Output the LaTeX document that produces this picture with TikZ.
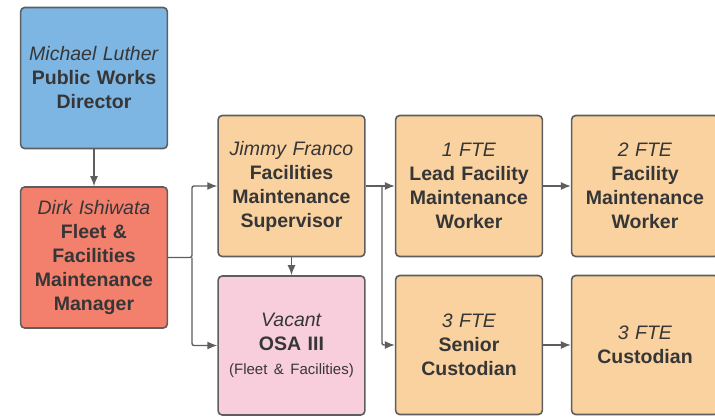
\documentclass[tikz,border=0pt]{standalone}
\usepackage{fontspec}
\setmainfont{Liberation Sans}
\usetikzlibrary{arrows.meta}
\definecolor{dirblue}{HTML}{7DB5E3}
\definecolor{mgrred}{HTML}{F3806D}
\definecolor{staffpeach}{HTML}{FAD2A0}
\definecolor{osapink}{HTML}{F8CEDC}
\definecolor{edgegray}{HTML}{5E5E5E}
\definecolor{textgray}{HTML}{363636}
\begin{document}
\begin{tikzpicture}[x=1pt,y=-1pt,
        box/.style={draw=edgegray,line width=1.6pt,rounded corners=4pt,
            minimum width=143pt,minimum height=141pt,text width=140pt,align=center,
            text=textgray,font=\fontsize{19.5}{24}\selectfont},
        conn/.style={draw=edgegray,line width=1.4pt,rounded corners=2pt,
            -{Latex[length=10pt,width=8pt]}}]
        \useasboundingbox (0,0) rectangle (715,418);
        %% director
        \node[box,fill=dirblue] (dir) at (94,78) {\textit{Michael Luther}\\\textbf{Public Works}\\\textbf{Director}};
        %% manager
        \node[box,fill=mgrred] (mgr) at (94,257.5) {\textit{Dirk Ishiwata}\\\textbf{Fleet \&}\\\textbf{Facilities}\\\textbf{Maintenance}\\\textbf{Manager}};
        %% supervisor and osa
        \node[box,fill=staffpeach] (sup) at (291.5,186) {\textit{Jimmy Franco}\\\textbf{Facilities}\\\textbf{Maintenance}\\\textbf{Supervisor}};
        \node[box,fill=osapink,minimum height=139pt] (osa) at (291.5,345.5) {\textit{Vacant}\\\textbf{OSA III}\\{\fontsize{15}{22}\selectfont(Fleet \& Facilities)}};
        %% workers
        \node[box,fill=staffpeach] (lead) at (469,186) {\textit{1 FTE}\\\textbf{Lead Facility}\\\textbf{Maintenance}\\\textbf{Worker}};
        \node[box,fill=staffpeach,minimum width=137pt] (fmw) at (645,186) {\textit{2 FTE}\\\textbf{Facility}\\\textbf{Maintenance}\\\textbf{Worker}};
        %% custodians
        \node[box,fill=staffpeach,minimum height=139pt] (sen) at (469,345) {\textit{3 FTE}\\\textbf{Senior}\\\textbf{Custodian}};
        \node[box,fill=staffpeach,minimum width=137pt,minimum height=139pt] (cus) at (645,345) {\textit{3 FTE}\\\textbf{Custodian}};
        %% connectors
        \coordinate (mgrsplit) at (192,257.5);
        \coordinate (supsplit) at (382,186);
        \draw[conn] (dir.south) -- (mgr.north);
        \draw[conn] (mgr.east) -- (mgrsplit) |- (sup.west);
        \draw[conn] (mgrsplit) |- (osa.west);
        \draw[conn] (sup.south) -- (osa.north);
        \draw[conn] (sup.east) -- (supsplit) -- (lead.west);
        \draw[conn] (supsplit) |- (sen.west);
        \draw[conn] (lead.east) -- (fmw.west);
        \draw[conn] (sen.east) -- (cus.west);
    \end{tikzpicture}
\end{document}
